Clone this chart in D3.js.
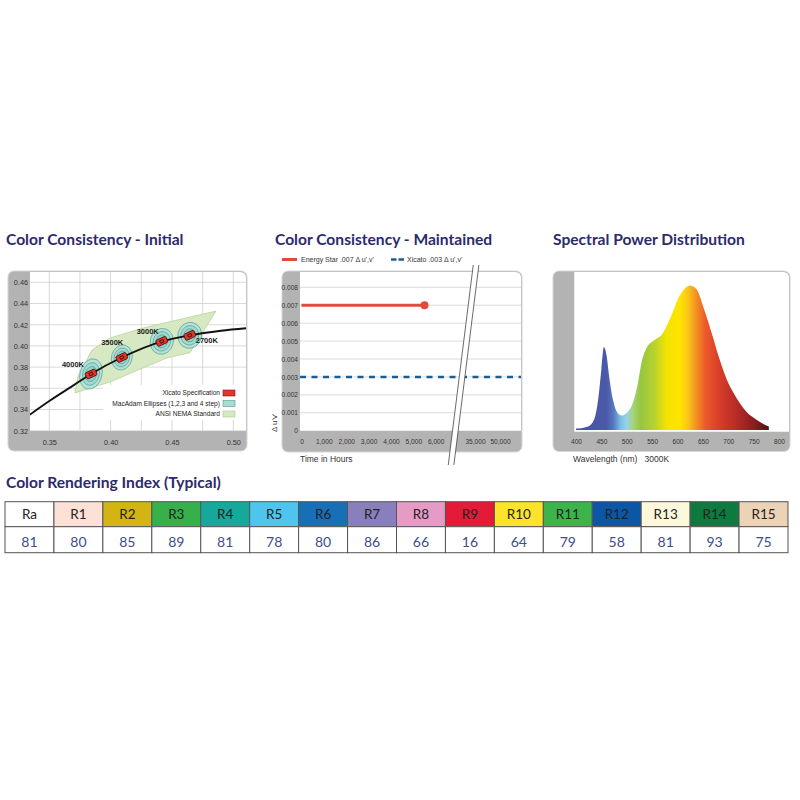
<!DOCTYPE html>
<html>
<head>
<meta charset="utf-8">
<script src="https://cdn.jsdelivr.net/npm/d3@7"></script>
<style>
  html, body { margin: 0; padding: 0; background: #fff; }
  svg { display: block; }
</style>
</head>
<body>
<svg id="chart" width="800" height="800"></svg>
<script>
// ---------- Color Consistency - Initial (CIE x,y) ----------
const xyTicksX = [0.35, 0.40, 0.45, 0.50]
const xyGridX = [0.35, 0.375, 0.40, 0.425, 0.45, 0.475, 0.50]
const xyTicksY = [0.32, 0.34, 0.36, 0.38, 0.40, 0.42, 0.44, 0.46]
const locusX = [0.334, 0.35, 0.37, 0.384, 0.409, 0.442, 0.4645, 0.49, 0.512]
const locusY = [0.335, 0.348, 0.363, 0.3735, 0.389, 0.4043, 0.410, 0.4143, 0.4168]
const cctLabels = ["4000K", "3500K", "3000K", "2700K"]
const cctX = [0.3840, 0.4091, 0.4417, 0.4645]
const cctY = [0.3735, 0.3891, 0.4043, 0.4100]
const ellipseRx = [0.0090, 0.0084, 0.0094, 0.0097]
const ellipseRy = [0.0145, 0.0120, 0.0123, 0.0123]
const ansiX = [0.3709, 0.3734, 0.3848, 0.3995, 0.4264, 0.4541, 0.4859, 0.4647, 0.4459, 0.4264, 0.3995]
const ansiY = [0.3556, 0.3716, 0.3961, 0.4075, 0.4169, 0.4244, 0.4329, 0.3936, 0.3886, 0.3792, 0.3659]
const legendInitial = ["Xicato Specification", "MacAdam Ellipses (1,2,3 and 4 step)", "ANSI NEMA Standard"]

// ---------- Color Consistency - Maintained ----------
const hourTicks = [0, 1000, 2000, 3000, 4000, 5000, 6000, 35000, 50000]
const duvTicks = [0, 0.001, 0.002, 0.003, 0.004, 0.005, 0.006, 0.007, 0.008]
const energyStarHours = [0, 5500]
const energyStarDuv = [0.007, 0.007]
const xicatoDuv = 0.003
const legendMaintained = ["Energy Star .007 \u0394 u',v'", "Xicato .003 \u0394 u',v'"]

// ---------- Spectral Power Distribution ----------
const wavelengths = [400, 410, 420, 430, 440, 445, 450, 455, 460, 465, 470, 475, 480, 490, 500, 510, 520, 530, 540, 550,
  560, 570, 580, 590, 600, 610, 620, 625, 630, 640, 650, 660, 670, 680, 690, 700, 710, 720, 730, 740, 750, 760, 770, 780]
const spd = [0.010, 0.012, 0.020, 0.040, 0.130, 0.250, 0.420, 0.575, 0.520, 0.380, 0.260, 0.180, 0.130, 0.100, 0.120, 0.170, 0.290, 0.480, 0.575, 0.610,
  0.635, 0.665, 0.730, 0.810, 0.900, 0.960, 0.995, 1.000, 0.995, 0.960, 0.860, 0.755, 0.640, 0.520, 0.415, 0.325, 0.260, 0.200, 0.150, 0.110, 0.085, 0.060, 0.040, 0.025]
const wlTicks = [400, 450, 500, 550, 600, 650, 700, 750, 800]
const spectrumStops = [
  [400, "#4654a3"], [460, "#4a59a8"], [474, "#5a78bd"], [488, "#7cc0e6"], [500, "#98d3e6"],
  [512, "#a8d27a"], [528, "#95c640"], [555, "#b8d22e"], [578, "#f2e400"], [605, "#ffe400"],
  [622, "#f9c21a"], [638, "#f38c22"], [655, "#ec5a2a"], [680, "#d9402a"], [715, "#b82b27"],
  [750, "#8a1f1f"], [780, "#4e1212"]
]

// ---------- Color Rendering Index ----------
const criLabels = ["Ra", "R1", "R2", "R3", "R4", "R5", "R6", "R7", "R8", "R9", "R10", "R11", "R12", "R13", "R14", "R15"]
const criValues = [81, 80, 85, 89, 81, 78, 80, 86, 66, 16, 64, 79, 58, 81, 93, 75]
const criColors = ["#ffffff", "#fde1d6", "#d2b515", "#35b04b", "#16a89b", "#4dc5ef", "#1770b7", "#8a7fbd",
  "#e59bc6", "#e31a38", "#fde42b", "#3cb44b", "#0c57a5", "#fdf8dc", "#0d7a3f", "#ecd3b6"]

const svg = d3.select("#chart")
const titleColor = "#2c2b6b"
const panelGray = "#b3b3b3"
const axisFont = "'Liberation Sans', Arial, sans-serif"

function topRightRounded(x, y, w, h, r) {
  return `M${x},${y}H${x + w - r}Q${x + w},${y} ${x + w},${y + r}V${y + h}H${x}Z`
}

function panel(x0, y0, x1, y1, px0, py1) {
  svg.append("rect")
    .attr("x", x0).attr("y", y0)
    .attr("width", x1 - x0).attr("height", y1 - y0)
    .attr("rx", 6)
    .attr("fill", panelGray)
    .attr("stroke", "#d6d6d6")
  svg.append("path")
    .attr("d", topRightRounded(px0, y0 + 1, x1 - 1 - px0, py1 - y0 - 1, 6))
    .attr("fill", "#fff")
}

function title(text, x, y) {
  svg.append("text")
    .attr("x", x).attr("y", y)
    .attr("font-family", "Lato, 'Open Sans', sans-serif")
    .attr("font-weight", "bold")
    .attr("font-size", 15.6)
    .attr("fill", titleColor)
    .text(text)
}

function styleAxis(g, size) {
  g.select(".domain").remove()
  g.selectAll("text")
    .attr("font-family", axisFont)
    .attr("font-size", size)
    .attr("fill", "#333")
}

// ===================== Chart 1 =====================
title("Color Consistency - Initial", 6, 245)
panel(8, 271, 247, 451, 30, 431)

const x1 = d3.scaleLinear().domain([0.35, 0.50]).range([49.3, 233.3])
const y1 = d3.scaleLinear().domain([0.32, 0.46]).range([430.7, 282.3])
const c1 = svg.append("g")

svg.append("clipPath").attr("id", "clip1")
  .append("rect").attr("x", 30).attr("y", 272).attr("width", 216).attr("height", 159)

// grid
c1.append("g")
  .selectAll("line.v")
  .data(xyGridX)
  .join("line")
  .attr("x1", d => x1(d)).attr("x2", d => x1(d))
  .attr("y1", 272).attr("y2", 431)
  .attr("stroke", "#cfcfcf").attr("stroke-width", 0.8)
c1.append("g")
  .selectAll("line.h")
  .data(xyTicksY)
  .join("line")
  .attr("x1", 30).attr("x2", 246)
  .attr("y1", d => y1(d)).attr("y2", d => y1(d))
  .attr("stroke", "#cfcfcf").attr("stroke-width", 0.8)

c1.append("g")
  .attr("transform", "translate(30,0)")
  .call(d3.axisLeft(y1).tickValues(xyTicksY).tickSize(0).tickPadding(2).tickFormat(d3.format(".2f")))
  .call(g => styleAxis(g, 7.3))
c1.append("g")
  .attr("transform", "translate(0,431)")
  .call(d3.axisBottom(x1).tickValues(xyTicksX).tickSize(0).tickPadding(9).tickFormat(d3.format(".2f")))
  .call(g => styleAxis(g, 7.3))

const plot1 = c1.append("g").attr("clip-path", "url(#clip1)")

// ANSI NEMA band
plot1.append("path")
  .datum(ansiX.map((d, i) => [d, ansiY[i]]))
  .attr("d", d3.line().x(d => x1(d[0])).y(d => y1(d[1])).curve(d3.curveLinearClosed))
  .attr("fill", "#d6e9c2")
  .attr("stroke", "#a8c98c")
  .attr("stroke-width", 0.6)

// MacAdam ellipses (4 steps)
const steps = [1, 0.75, 0.5, 0.25]
const stepFill = ["#b6e1d6", "#a4d9cd", "#93d1c4", "#84cabd"]
cctX.forEach((cx, i) => {
  const px = x1(cx), py = y1(cctY[i])
  const rx = x1(cx + ellipseRx[i]) - px
  const ry = py - y1(cctY[i] + ellipseRy[i])
  const g = plot1.append("g").attr("transform", `translate(${px},${py}) rotate(15)`)
  g.selectAll("ellipse")
    .data(steps)
    .join("ellipse")
    .attr("rx", d => rx * d)
    .attr("ry", d => ry * d)
    .attr("fill", (d, j) => stepFill[j])
    .attr("stroke", "#4a9893")
    .attr("stroke-width", 0.6)
})

// Planckian locus
plot1.append("path")
  .datum(locusX.map((d, i) => [d, locusY[i]]))
  .attr("d", d3.line().x(d => x1(d[0])).y(d => y1(d[1])).curve(d3.curveMonotoneX))
  .attr("fill", "none")
  .attr("stroke", "#111")
  .attr("stroke-width", 1.8)

// Xicato specification
cctX.forEach((cx, i) => {
  const g = plot1.append("g").attr("transform", `translate(${x1(cx)},${y1(cctY[i])}) rotate(-25)`)
  g.append("rect")
    .attr("x", -5.5).attr("y", -3.3).attr("width", 11).attr("height", 6.6).attr("rx", 1.5)
    .attr("fill", "#e0372c").attr("stroke", "#4a120e").attr("stroke-width", 0.8)
  g.append("rect")
    .attr("x", -1.8).attr("y", -1.3).attr("width", 3.6).attr("height", 2.6)
    .attr("fill", "none").attr("stroke", "#3a0d0a").attr("stroke-width", 0.8)
})

// CCT labels
const cctLabelPos = [[-7, -7, "end"], [1.5, -12, "end"], [-3, -7, "end"], [6, 8, "start"]]
cctLabels.forEach((t, i) => {
  c1.append("text")
    .attr("x", x1(cctX[i]) + cctLabelPos[i][0])
    .attr("y", y1(cctY[i]) + cctLabelPos[i][1])
    .attr("text-anchor", cctLabelPos[i][2])
    .attr("font-family", axisFont)
    .attr("font-weight", "bold")
    .attr("font-size", 7.5)
    .attr("fill", "#1a1a1a")
    .text(t)
})

// legend
c1.append("rect")
  .attr("x", 103).attr("y", 385).attr("width", 143).attr("height", 35)
  .attr("fill", "#fff")
const legendSwatch = [["#e0372c", "#7a1a14"], ["#a9dbcf", "#4f9c98"], ["#d6e9c2", "#a8c98c"]]
legendInitial.forEach((t, i) => {
  const yy = 393 + i * 10.5
  c1.append("text")
    .attr("x", 220).attr("y", yy + 2.4)
    .attr("text-anchor", "end")
    .attr("font-family", axisFont)
    .attr("font-size", 6.6)
    .attr("fill", "#222")
    .text(t)
  c1.append("rect")
    .attr("x", 223).attr("y", yy - 3).attr("width", 12).attr("height", 6)
    .attr("fill", legendSwatch[i][0])
    .attr("stroke", legendSwatch[i][1]).attr("stroke-width", 0.6)
})

// ===================== Chart 2 =====================
title("Color Consistency - Maintained", 275, 245)
panel(282, 271, 522, 452, 300, 430.7)

const x2 = d3.scaleLinear().domain([0, 6000, 35000, 50000]).range([301.5, 435.7, 475, 500])
const y2 = d3.scaleLinear().domain([0, 0.008]).range([430.7, 287.3])
const c2 = svg.append("g")

c2.append("g")
  .selectAll("line")
  .data(duvTicks.slice(1))
  .join("line")
  .attr("x1", 300).attr("x2", 521)
  .attr("y1", d => y2(d)).attr("y2", d => y2(d))
  .attr("stroke", "#d2d2d2").attr("stroke-width", 0.8)

c2.append("g")
  .attr("transform", "translate(300,0)")
  .call(d3.axisLeft(y2).tickValues(duvTicks).tickSize(0).tickPadding(2)
    .tickFormat(d => d === 0 ? "0" : d3.format(".3f")(d)))
  .call(g => styleAxis(g, 6.6))
c2.append("g")
  .attr("transform", "translate(0,430.7)")
  .call(d3.axisBottom(x2).tickValues(hourTicks).tickSize(0).tickPadding(8.5).tickFormat(d3.format(",")))
  .call(g => styleAxis(g, 6.6))

// Xicato dashed line
c2.append("line")
  .attr("x1", 300).attr("x2", 521)
  .attr("y1", y2(xicatoDuv)).attr("y2", y2(xicatoDuv))
  .attr("stroke", "#1c5d92")
  .attr("stroke-width", 2.6)
  .attr("stroke-dasharray", "6,5.5")

// Energy Star
c2.append("path")
  .datum(energyStarHours.map((d, i) => [d, energyStarDuv[i]]))
  .attr("d", d3.line().x(d => x2(d[0])).y(d => y2(d[1])))
  .attr("stroke", "#e24b3b")
  .attr("stroke-width", 3)
  .attr("fill", "none")
c2.append("circle")
  .attr("cx", x2(energyStarHours[1]))
  .attr("cy", y2(energyStarDuv[1]))
  .attr("r", 4)
  .attr("fill", "#e24b3b")

// axis break
const bx = (x2(6000) + x2(35000)) / 2
const by = y2(0)
const bxAt = y => bx + 0.125 * (by - y)
const yTop = 265, yBot = 465
c2.append("path")
  .attr("d", `M${bxAt(yTop) - 2.8},${yTop}L${bxAt(yTop) + 2.8},${yTop}L${bxAt(yBot) + 2.8},${yBot}L${bxAt(yBot) - 2.8},${yBot}Z`)
  .attr("fill", "#fff")
;[-2.8, 2.8].forEach(o => {
  c2.append("line")
    .attr("x1", bxAt(yTop) + o).attr("y1", yTop)
    .attr("x2", bxAt(yBot) + o).attr("y2", yBot)
    .attr("stroke", "#444").attr("stroke-width", 0.8)
})

// legend
c2.append("line")
  .attr("x1", 282).attr("x2", 297).attr("y1", 259.5).attr("y2", 259.5)
  .attr("stroke", "#e24b3b").attr("stroke-width", 3)
c2.append("text")
  .attr("x", 301).attr("y", 262)
  .attr("font-family", axisFont).attr("font-size", 7).attr("fill", "#333")
  .text(legendMaintained[0])
c2.append("line")
  .attr("x1", 391).attr("x2", 404).attr("y1", 259.5).attr("y2", 259.5)
  .attr("stroke", "#1c5d92").attr("stroke-width", 2.6)
  .attr("stroke-dasharray", "5.5,2")
c2.append("text")
  .attr("x", 407).attr("y", 262)
  .attr("font-family", axisFont).attr("font-size", 7).attr("fill", "#333")
  .text(legendMaintained[1])

c2.append("text")
  .attr("transform", "translate(277,432) rotate(-90)")
  .attr("font-family", axisFont).attr("font-size", 8).attr("fill", "#333")
  .text("\u0394 u'v'")
c2.append("text")
  .attr("x", 300).attr("y", 462)
  .attr("font-family", axisFont).attr("font-size", 8.5).attr("fill", "#333")
  .text("Time in Hours")

// ===================== Chart 3 =====================
title("Spectral Power Distribution", 553, 245)
panel(553, 271, 790, 451.5, 574.3, 431.7)

const x3 = d3.scaleLinear().domain([400, 800]).range([576, 779])
const y3 = d3.scaleLinear().domain([0, 1]).range([430, 285.5])
const c3 = svg.append("g")

const grad = svg.append("defs").append("linearGradient")
  .attr("id", "spectrum")
  .attr("gradientUnits", "userSpaceOnUse")
  .attr("x1", x3(400)).attr("x2", x3(780))
  .attr("y1", 0).attr("y2", 0)
grad.selectAll("stop")
  .data(spectrumStops)
  .join("stop")
  .attr("offset", d => (x3(d[0]) - x3(400)) / (x3(780) - x3(400)))
  .attr("stop-color", d => d[1])

c3.append("path")
  .datum(wavelengths.map((d, i) => [d, spd[i]]))
  .attr("d", d3.area()
    .x(d => x3(d[0]))
    .y0(y3(0))
    .y1(d => y3(d[1]))
    .curve(d3.curveMonotoneX))
  .attr("fill", "url(#spectrum)")

c3.append("g")
  .attr("transform", "translate(0,431.7)")
  .call(d3.axisBottom(x3).tickValues(wlTicks).tickSize(0).tickPadding(7.5).tickFormat(d3.format("d")))
  .call(g => styleAxis(g, 6.6))

c3.append("text")
  .attr("x", 573).attr("y", 462)
  .attr("font-family", axisFont).attr("font-size", 8.5).attr("fill", "#333")
  .attr("xml:space", "preserve")
  .text("Wavelength (nm)   3000K")

// ===================== CRI table =====================
title("Color Rendering Index (Typical)", 6, 488)

const xt = d3.scaleBand().domain(criLabels).range([5, 788])
const rowTop = 501.7, rowMid = 526.7, rowBot = 552.7
const table = svg.append("g")

table.selectAll("rect.head")
  .data(criLabels)
  .join("rect")
  .attr("class", "head")
  .attr("x", d => xt(d)).attr("y", rowTop)
  .attr("width", xt.bandwidth()).attr("height", rowMid - rowTop)
  .attr("fill", (d, i) => criColors[i])
  .attr("stroke", "#555").attr("stroke-width", 1)
table.selectAll("rect.val")
  .data(criLabels)
  .join("rect")
  .attr("class", "val")
  .attr("x", d => xt(d)).attr("y", rowMid)
  .attr("width", xt.bandwidth()).attr("height", rowBot - rowMid)
  .attr("fill", "#fff")
  .attr("stroke", "#555").attr("stroke-width", 1)

table.selectAll("text.head")
  .data(criLabels)
  .join("text")
  .attr("class", "head")
  .attr("x", d => xt(d) + xt.bandwidth() / 2)
  .attr("y", 519.3)
  .attr("text-anchor", "middle")
  .attr("font-family", "Lato, sans-serif")
  .attr("font-size", 13.5)
  .attr("fill", "#222")
  .text(d => d)
table.selectAll("text.val")
  .data(criValues)
  .join("text")
  .attr("class", "val")
  .attr("x", (d, i) => xt(criLabels[i]) + xt.bandwidth() / 2)
  .attr("y", 546.5)
  .attr("text-anchor", "middle")
  .attr("font-family", "Lato, sans-serif")
  .attr("font-size", 14)
  .attr("fill", "#3d4e8a")
  .text(d => d)
</script>
</body>
</html>
